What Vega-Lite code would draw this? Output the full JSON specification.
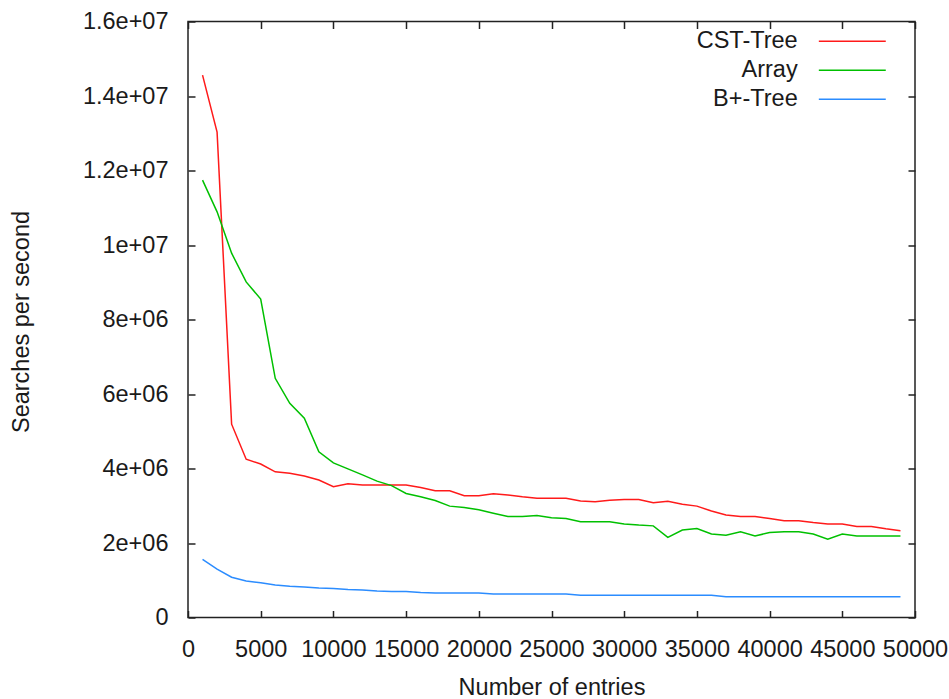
{
  "$schema": "https://vega.github.io/schema/vega-lite/v6.json",
  "width": 727,
  "height": 596,
  "autosize": {"type": "none"},
  "padding": {"left": 188, "top": 21.5, "right": 34, "bottom": 81.5},
  "background": "white",
  "config": {
    "view": {"stroke": "#222", "strokeWidth": 1.5},
    "font": "Liberation Sans",
    "axis": {
      "domain": false,
      "grid": false,
      "tickColor": "#222",
      "tickWidth": 1.5,
      "tickSize": -7,
      "labelFont": "Liberation Sans",
      "labelFontSize": 23.5,
      "labelColor": "#1a1a1a",
      "titleFont": "Liberation Sans",
      "titleFontSize": 23.5,
      "titleFontWeight": "normal",
      "titleColor": "#1a1a1a"
    }
  },
  "data": {
    "values": [
      {"x": 1000, "series": "CST-Tree", "v": 14560000},
      {"x": 2000, "series": "CST-Tree", "v": 13030000},
      {"x": 3000, "series": "CST-Tree", "v": 5190000},
      {"x": 4000, "series": "CST-Tree", "v": 4250000},
      {"x": 5000, "series": "CST-Tree", "v": 4120000},
      {"x": 6000, "series": "CST-Tree", "v": 3910000},
      {"x": 7000, "series": "CST-Tree", "v": 3870000},
      {"x": 8000, "series": "CST-Tree", "v": 3800000},
      {"x": 9000, "series": "CST-Tree", "v": 3690000},
      {"x": 10000, "series": "CST-Tree", "v": 3510000},
      {"x": 11000, "series": "CST-Tree", "v": 3590000},
      {"x": 12000, "series": "CST-Tree", "v": 3560000},
      {"x": 13000, "series": "CST-Tree", "v": 3560000},
      {"x": 14000, "series": "CST-Tree", "v": 3560000},
      {"x": 15000, "series": "CST-Tree", "v": 3560000},
      {"x": 16000, "series": "CST-Tree", "v": 3490000},
      {"x": 17000, "series": "CST-Tree", "v": 3400000},
      {"x": 18000, "series": "CST-Tree", "v": 3400000},
      {"x": 19000, "series": "CST-Tree", "v": 3270000},
      {"x": 20000, "series": "CST-Tree", "v": 3270000},
      {"x": 21000, "series": "CST-Tree", "v": 3320000},
      {"x": 22000, "series": "CST-Tree", "v": 3290000},
      {"x": 23000, "series": "CST-Tree", "v": 3240000},
      {"x": 24000, "series": "CST-Tree", "v": 3200000},
      {"x": 25000, "series": "CST-Tree", "v": 3200000},
      {"x": 26000, "series": "CST-Tree", "v": 3200000},
      {"x": 27000, "series": "CST-Tree", "v": 3130000},
      {"x": 28000, "series": "CST-Tree", "v": 3110000},
      {"x": 29000, "series": "CST-Tree", "v": 3150000},
      {"x": 30000, "series": "CST-Tree", "v": 3170000},
      {"x": 31000, "series": "CST-Tree", "v": 3170000},
      {"x": 32000, "series": "CST-Tree", "v": 3080000},
      {"x": 33000, "series": "CST-Tree", "v": 3120000},
      {"x": 34000, "series": "CST-Tree", "v": 3040000},
      {"x": 35000, "series": "CST-Tree", "v": 2990000},
      {"x": 36000, "series": "CST-Tree", "v": 2860000},
      {"x": 37000, "series": "CST-Tree", "v": 2750000},
      {"x": 38000, "series": "CST-Tree", "v": 2710000},
      {"x": 39000, "series": "CST-Tree", "v": 2710000},
      {"x": 40000, "series": "CST-Tree", "v": 2660000},
      {"x": 41000, "series": "CST-Tree", "v": 2600000},
      {"x": 42000, "series": "CST-Tree", "v": 2600000},
      {"x": 43000, "series": "CST-Tree", "v": 2550000},
      {"x": 44000, "series": "CST-Tree", "v": 2510000},
      {"x": 45000, "series": "CST-Tree", "v": 2510000},
      {"x": 46000, "series": "CST-Tree", "v": 2440000},
      {"x": 47000, "series": "CST-Tree", "v": 2440000},
      {"x": 48000, "series": "CST-Tree", "v": 2380000},
      {"x": 49000, "series": "CST-Tree", "v": 2330000},
      {"x": 1000, "series": "Array", "v": 11740000},
      {"x": 2000, "series": "Array", "v": 10890000},
      {"x": 3000, "series": "Array", "v": 9780000},
      {"x": 4000, "series": "Array", "v": 9010000},
      {"x": 5000, "series": "Array", "v": 8550000},
      {"x": 6000, "series": "Array", "v": 6420000},
      {"x": 7000, "series": "Array", "v": 5750000},
      {"x": 8000, "series": "Array", "v": 5350000},
      {"x": 9000, "series": "Array", "v": 4450000},
      {"x": 10000, "series": "Array", "v": 4150000},
      {"x": 11000, "series": "Array", "v": 3990000},
      {"x": 12000, "series": "Array", "v": 3830000},
      {"x": 13000, "series": "Array", "v": 3660000},
      {"x": 14000, "series": "Array", "v": 3540000},
      {"x": 15000, "series": "Array", "v": 3330000},
      {"x": 16000, "series": "Array", "v": 3240000},
      {"x": 17000, "series": "Array", "v": 3140000},
      {"x": 18000, "series": "Array", "v": 2990000},
      {"x": 19000, "series": "Array", "v": 2950000},
      {"x": 20000, "series": "Array", "v": 2890000},
      {"x": 21000, "series": "Array", "v": 2800000},
      {"x": 22000, "series": "Array", "v": 2710000},
      {"x": 23000, "series": "Array", "v": 2710000},
      {"x": 24000, "series": "Array", "v": 2740000},
      {"x": 25000, "series": "Array", "v": 2680000},
      {"x": 26000, "series": "Array", "v": 2660000},
      {"x": 27000, "series": "Array", "v": 2570000},
      {"x": 28000, "series": "Array", "v": 2570000},
      {"x": 29000, "series": "Array", "v": 2570000},
      {"x": 30000, "series": "Array", "v": 2510000},
      {"x": 31000, "series": "Array", "v": 2480000},
      {"x": 32000, "series": "Array", "v": 2460000},
      {"x": 33000, "series": "Array", "v": 2150000},
      {"x": 34000, "series": "Array", "v": 2350000},
      {"x": 35000, "series": "Array", "v": 2390000},
      {"x": 36000, "series": "Array", "v": 2240000},
      {"x": 37000, "series": "Array", "v": 2210000},
      {"x": 38000, "series": "Array", "v": 2300000},
      {"x": 39000, "series": "Array", "v": 2190000},
      {"x": 40000, "series": "Array", "v": 2280000},
      {"x": 41000, "series": "Array", "v": 2300000},
      {"x": 42000, "series": "Array", "v": 2300000},
      {"x": 43000, "series": "Array", "v": 2240000},
      {"x": 44000, "series": "Array", "v": 2100000},
      {"x": 45000, "series": "Array", "v": 2240000},
      {"x": 46000, "series": "Array", "v": 2190000},
      {"x": 47000, "series": "Array", "v": 2190000},
      {"x": 48000, "series": "Array", "v": 2190000},
      {"x": 49000, "series": "Array", "v": 2190000},
      {"x": 1000, "series": "B+-Tree", "v": 1560000},
      {"x": 2000, "series": "B+-Tree", "v": 1300000},
      {"x": 3000, "series": "B+-Tree", "v": 1080000},
      {"x": 4000, "series": "B+-Tree", "v": 980000},
      {"x": 5000, "series": "B+-Tree", "v": 930000},
      {"x": 6000, "series": "B+-Tree", "v": 870000},
      {"x": 7000, "series": "B+-Tree", "v": 840000},
      {"x": 8000, "series": "B+-Tree", "v": 820000},
      {"x": 9000, "series": "B+-Tree", "v": 790000},
      {"x": 10000, "series": "B+-Tree", "v": 780000},
      {"x": 11000, "series": "B+-Tree", "v": 750000},
      {"x": 12000, "series": "B+-Tree", "v": 740000},
      {"x": 13000, "series": "B+-Tree", "v": 710000},
      {"x": 14000, "series": "B+-Tree", "v": 700000},
      {"x": 15000, "series": "B+-Tree", "v": 700000},
      {"x": 16000, "series": "B+-Tree", "v": 670000},
      {"x": 17000, "series": "B+-Tree", "v": 660000},
      {"x": 18000, "series": "B+-Tree", "v": 660000},
      {"x": 19000, "series": "B+-Tree", "v": 660000},
      {"x": 20000, "series": "B+-Tree", "v": 660000},
      {"x": 21000, "series": "B+-Tree", "v": 630000},
      {"x": 22000, "series": "B+-Tree", "v": 630000},
      {"x": 23000, "series": "B+-Tree", "v": 630000},
      {"x": 24000, "series": "B+-Tree", "v": 630000},
      {"x": 25000, "series": "B+-Tree", "v": 630000},
      {"x": 26000, "series": "B+-Tree", "v": 630000},
      {"x": 27000, "series": "B+-Tree", "v": 600000},
      {"x": 28000, "series": "B+-Tree", "v": 600000},
      {"x": 29000, "series": "B+-Tree", "v": 600000},
      {"x": 30000, "series": "B+-Tree", "v": 600000},
      {"x": 31000, "series": "B+-Tree", "v": 600000},
      {"x": 32000, "series": "B+-Tree", "v": 600000},
      {"x": 33000, "series": "B+-Tree", "v": 600000},
      {"x": 34000, "series": "B+-Tree", "v": 600000},
      {"x": 35000, "series": "B+-Tree", "v": 600000},
      {"x": 36000, "series": "B+-Tree", "v": 600000},
      {"x": 37000, "series": "B+-Tree", "v": 560000},
      {"x": 38000, "series": "B+-Tree", "v": 560000},
      {"x": 39000, "series": "B+-Tree", "v": 560000},
      {"x": 40000, "series": "B+-Tree", "v": 560000},
      {"x": 41000, "series": "B+-Tree", "v": 560000},
      {"x": 42000, "series": "B+-Tree", "v": 560000},
      {"x": 43000, "series": "B+-Tree", "v": 560000},
      {"x": 44000, "series": "B+-Tree", "v": 560000},
      {"x": 45000, "series": "B+-Tree", "v": 560000},
      {"x": 46000, "series": "B+-Tree", "v": 560000},
      {"x": 47000, "series": "B+-Tree", "v": 560000},
      {"x": 48000, "series": "B+-Tree", "v": 560000},
      {"x": 49000, "series": "B+-Tree", "v": 560000}
    ]
  },
  "layer": [
    {
      "mark": {"type": "line", "strokeWidth": 1.5},
      "encoding": {
        "x": {
          "field": "x", "type": "quantitative",
          "scale": {"domain": [0, 50000], "nice": false},
          "axis": {
            "orient": "bottom",
            "values": [0, 5000, 10000, 15000, 20000, 25000, 30000, 35000, 40000, 45000, 50000],
            "format": "d",
            "labelPadding": 27,
            "labelFlush": false,
            "labelOverlap": false,
            "title": "Number of entries",
            "titleBaseline": "alphabetic",
            "titleAnchor": "middle",
            "titleY": 77
          }
        },
        "y": {
          "field": "v", "type": "quantitative",
          "scale": {"domain": [0, 16000000], "nice": false},
          "axis": {
            "orient": "left",
            "values": [0, 2000000, 4000000, 6000000, 8000000, 10000000, 12000000, 14000000, 16000000],
            "labelExpr": "datum.value == 0 ? '0' : replace(format(datum.value, '~e'), 'e+', 'e+0')",
            "labelPadding": 27,
            "labelFlush": false,
            "labelOverlap": false,
            "labelBaseline": "middle",
            "title": "Searches per second",
            "titleAngle": -90,
            "titleBaseline": "alphabetic",
            "titleAlign": "center",
            "titleX": -159.5,
            "titleY": 300
          }
        },
        "color": {
          "field": "series", "type": "nominal",
          "scale": {"domain": ["CST-Tree", "Array", "B+-Tree"], "range": ["#ff1a1a", "#00c000", "#2b8cff"]},
          "legend": {
            "title": null,
            "orient": "none",
            "legendX": 652.3,
            "legendY": 7.75,
            "padding": 0,
            "symbolType": "M-3,0L3,0",
            "symbolSize": 498,
            "symbolStrokeWidth": 1.5,
            "labelAlign": "right",
            "labelOffset": -66.6,
            "labelFontSize": 23.5,
            "labelFont": "Liberation Sans",
            "labelColor": "#1a1a1a",
            "labelLimit": 0,
            "rowPadding": 5
          }
        }
      }
    },
    {
      "mark": {"type": "line", "opacity": 0},
      "encoding": {
        "x": {
          "field": "x", "type": "quantitative",
          "axis": {"orient": "top", "values": [0, 5000, 10000, 15000, 20000, 25000, 30000, 35000, 40000, 45000, 50000], "labels": false, "title": null}
        },
        "y": {
          "field": "v", "type": "quantitative",
          "axis": {"orient": "right", "values": [0, 2000000, 4000000, 6000000, 8000000, 10000000, 12000000, 14000000, 16000000], "labels": false, "title": null}
        },
        "detail": {"field": "series", "type": "nominal"}
      }
    }
  ],
  "resolve": {"axis": {"x": "independent", "y": "independent"}}
}
